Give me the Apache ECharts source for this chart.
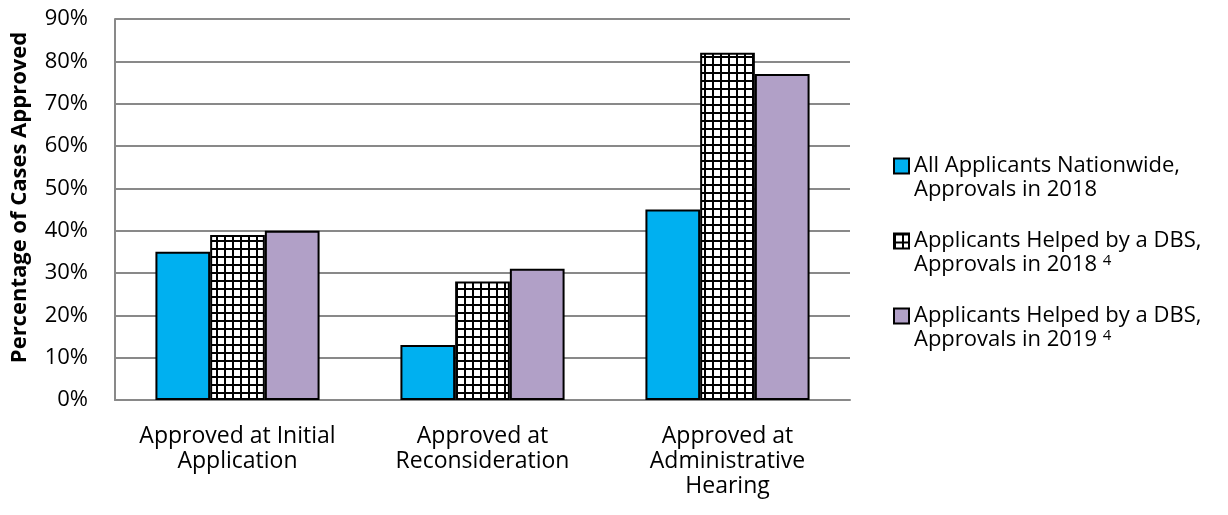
<!DOCTYPE html>
<html><head><meta charset="utf-8">
<script src="https://cdn.jsdelivr.net/npm/echarts@6/dist/echarts.min.js"></script>
<style>html,body{margin:0;padding:0;background:#fff}#c{width:1228px;height:515px}</style>
</head><body><div id="c"></div>
<script>
const categories = ['Approved at Initial\nApplication', 'Approved at\nReconsideration', 'Approved at\nAdministrative\nHearing'];
const seriesNames = ['All Applicants Nationwide, Approvals in 2018', 'Applicants Helped by a DBS, Approvals in 2018', 'Applicants Helped by a DBS, Approvals in 2019'];
const nationwide2018 = [35, 13, 45];
const dbs2018 = [39, 28, 82];
const dbs2019 = [40, 31, 77];
const yTicks = [0, 10, 20, 30, 40, 50, 60, 70, 80, 90];

const FONT = 'Open Sans';
const pc = document.createElement('canvas');
pc.width = 8; pc.height = 8;
const g = pc.getContext('2d');
g.fillStyle = '#fff'; g.fillRect(0, 0, 8, 8);
g.fillStyle = '#000'; g.fillRect(0, 0, 2, 8); g.fillRect(0, 0, 8, 2);
const checker = { image: pc, repeat: 'repeat' };

const chart = echarts.init(document.getElementById('c'));
const legendText = {
  [seriesNames[0]]: '{e| }\n{a|All Applicants Nationwide,}\n{a|Approvals in 2018}',
  [seriesNames[1]]: '{e| }\n{a|Applicants Helped by a DBS,}\n{a|Approvals in 2018 }{s|4}',
  [seriesNames[2]]: '{e| }\n{a|Applicants Helped by a DBS,}\n{a|Approvals in 2019 }{s|4}'
};
const border = { borderColor: '#000', borderWidth: 2 };
chart.setOption({
  animation: false,
  grid: { left: 115, top: 19, right: 378, bottom: 115, containLabel: false, outerBoundsMode: 'none' },
  xAxis: {
    type: 'category', data: categories,
    axisLine: { lineStyle: { color: '#898989', width: 2 } },
    axisTick: { show: false },
    axisLabel: { color: '#000', fontFamily: FONT, fontSize: 23, lineHeight: 25, margin: 24, interval: 0 }
  },
  yAxis: {
    type: 'value', min: 0, max: 90, interval: 10,
    name: 'Percentage of Cases Approved', nameLocation: 'middle', nameGap: 84,
    nameTextStyle: { color: '#000', fontFamily: FONT, fontSize: 22, fontWeight: 'bold', padding: [0, 0, 0, 24] },
    axisLine: { show: true, lineStyle: { color: '#898989', width: 2 } },
    axisTick: { show: false },
    splitLine: { lineStyle: { color: '#898989', width: 2 } },
    axisLabel: { color: '#000', fontFamily: FONT, fontSize: 22, margin: 27,
      formatter: v => yTicks.includes(v) ? v + '%' : '' }
  },
  legend: {
    orient: 'vertical', left: 888, top: 125, itemWidth: 15, itemHeight: 15, itemGap: 3,
    icon: 'rect', selectedMode: false,
    formatter: n => legendText[n],
    textStyle: {
      fontFamily: FONT, fontSize: 22, lineHeight: 24,
      rich: {
        e: { fontFamily: FONT, fontSize: 22, lineHeight: 24 },
        a: { fontFamily: FONT, fontSize: 22, lineHeight: 24, color: '#000' },
        s: { fontFamily: FONT, fontSize: 15, lineHeight: 24, verticalAlign: 'top', color: '#000', padding: [0, 0, 8, 0] }
      }
    },
    data: seriesNames.map(n => ({ name: n, itemStyle: { borderColor: '#000', borderWidth: 2 } }))
  },
  series: [
    { name: seriesNames[0], type: 'bar', data: nationwide2018, barGap: '0%', barCategoryGap: '33%', itemStyle: Object.assign({ color: '#00b0f0' }, border) },
    { name: seriesNames[1], type: 'bar', data: dbs2018, itemStyle: Object.assign({ color: checker }, border) },
    { name: seriesNames[2], type: 'bar', data: dbs2019, itemStyle: Object.assign({ color: '#b1a0c7' }, border) }
  ]
});
</script></body></html>
